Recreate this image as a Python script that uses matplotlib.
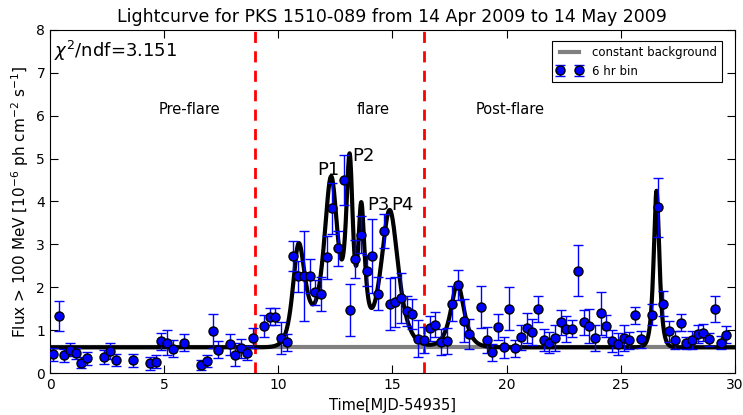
import numpy as np
import matplotlib
matplotlib.use("Agg")
import matplotlib.pyplot as plt

# ---- data (6 hr bins) ----
time = [0.125, 0.375, 0.625, 0.875, 1.125, 1.375, 1.625, 2.375, 2.625, 2.875,
        3.625, 4.375, 4.625, 4.875, 5.125, 5.375, 5.875, 6.625, 6.875, 7.125,
        7.375, 7.875, 8.125, 8.375, 8.625, 8.875, 9.375, 9.625, 9.875, 10.125,
        10.375, 10.625, 10.875, 11.125, 11.375, 11.625, 11.875, 12.125, 12.375, 12.625,
        12.875, 13.125, 13.375, 13.625, 13.875, 14.125, 14.375, 14.625, 14.875, 15.125,
        15.375, 15.625, 15.875, 16.125, 16.375, 16.625, 16.875, 17.125, 17.375, 17.625,
        17.875, 18.125, 18.375, 18.875, 19.125, 19.375, 19.625, 19.875, 20.125, 20.375,
        20.625, 20.875, 21.125, 21.375, 21.625, 21.875, 22.125, 22.375, 22.625, 22.875,
        23.125, 23.375, 23.625, 23.875, 24.125, 24.375, 24.625, 24.875, 25.125, 25.375,
        25.625, 25.875, 26.375, 26.625, 26.875, 27.125, 27.375, 27.625, 27.875, 28.125,
        28.375, 28.625, 28.875, 29.125, 29.375, 29.625]
flux = [0.44, 1.33, 0.41, 0.54, 0.46, 0.24, 0.34, 0.38, 0.52, 0.30,
        0.30, 0.23, 0.27, 0.74, 0.71, 0.57, 0.71, 0.19, 0.28, 0.98,
        0.54, 0.67, 0.43, 0.58, 0.47, 0.81, 1.10, 1.31, 1.31, 0.81,
        0.72, 2.73, 2.26, 2.26, 2.26, 1.88, 1.84, 2.70, 3.84, 2.91,
        4.50, 1.47, 2.66, 3.23, 2.39, 2.73, 1.85, 3.31, 1.61, 1.66,
        1.75, 1.45, 1.38, 0.80, 0.77, 1.04, 1.13, 0.73, 0.75, 1.62,
        2.05, 1.22, 0.91, 1.54, 0.77, 0.48, 1.08, 0.60, 1.50, 0.58,
        0.83, 1.04, 0.96, 1.50, 0.77, 0.71, 0.81, 1.18, 1.03, 1.03,
        2.39, 1.18, 1.09, 0.82, 1.39, 1.10, 0.75, 0.68, 0.82, 0.76,
        1.35, 0.79, 1.36, 3.86, 1.62, 0.97, 0.77, 1.17, 0.70, 0.77,
        0.91, 0.94, 0.79, 1.49, 0.71, 0.89]
flux_err = [0.15, 0.34, 0.15, 0.15, 0.13, 0.13, 0.15, 0.16, 0.19, 0.14,
            0.15, 0.15, 0.15, 0.20, 0.30, 0.20, 0.20, 0.12, 0.14, 0.39,
            0.20, 0.25, 0.27, 0.22, 0.17, 0.23, 0.25, 0.20, 0.20, 0.37,
            0.20, 0.34, 0.36, 1.05, 0.39, 0.30, 0.39, 0.50, 0.60, 0.41,
            0.58, 0.61, 0.45, 0.44, 0.37, 0.86, 0.39, 0.40, 0.60, 0.58,
            0.58, 0.35, 0.35, 0.43, 0.30, 0.30, 0.30, 0.30, 0.30, 0.40,
            0.35, 0.50, 0.35, 0.50, 0.30, 0.20, 0.30, 0.25, 0.50, 0.20,
            0.30, 0.35, 0.30, 0.30, 0.25, 0.25, 0.30, 0.30, 0.30, 0.20,
            0.60, 0.30, 0.40, 0.30, 0.50, 0.25, 0.25, 0.25, 0.30, 0.20,
            0.20, 0.20, 0.25, 0.68, 0.30, 0.25, 0.20, 0.20, 0.15, 0.20,
            0.20, 0.20, 0.15, 0.30, 0.15, 0.20]

# ---- fit model parameters ----
background = 0.6
peak_t0 = [10.85, 12.34, 13.14, 13.62, 14.89, 17.85, 26.57]
peak_F = [2.32, 3.9, 4.05, 3.0, 3.2, 1.47, 3.65]
peak_Tr = [0.20, 0.30, 0.15, 0.11, 0.35, 0.26, 0.11]
peak_Td = [0.30, 0.25, 0.12, 0.15, 0.33, 0.26, 0.11]
peak_labels = ["P1", "P2", "P3", "P4"]
peak_label_pos = [(12.18, 4.73), (13.75, 5.06), (14.37, 3.92), (15.46, 3.92)]
flare_start, flare_end = 9.0, 16.4
regions = [("Pre-flare", 6.13), ("flare", 14.15), ("Post-flare", 20.15)]

tt = np.linspace(0, 30, 3000)
model = np.full_like(tt, background)
for t0, F, tr, td in zip(peak_t0, peak_F, peak_Tr, peak_Td):
    model += 2 * F / (np.exp((t0 - tt) / tr) + np.exp((tt - t0) / td))

fig = plt.figure(figsize=(7.43, 4.15), dpi=100)
ax = fig.add_axes([0.0673, 0.101, 0.9217, 0.827])

ax.plot([0, 30], [background, background], color='0.5', lw=3, label='constant background', zorder=2)
ax.plot(tt, model, color='black', lw=3, zorder=3)
ax.errorbar(time, flux, yerr=flux_err, fmt='o', color='blue', mfc='blue', mec='black',
            ms=6.5, ecolor='blue', elinewidth=1, capsize=3.5, capthick=1,
            label='6 hr bin', zorder=4)

for xv in (flare_start, flare_end):
    ax.axvline(xv, color='red', ls='--', lw=2, dashes=(4, 3), zorder=1)

for lab, (x, y) in zip(peak_labels, peak_label_pos):
    ax.text(x, y, lab, fontsize=13, ha='center', va='center')
for lab, x in regions:
    ax.text(x, 6.14, lab, fontsize=10.5, ha='center', va='center')

ax.text(0.006, 0.975, r'$\chi^2$/ndf=3.151', transform=ax.transAxes, fontsize=13,
        ha='left', va='top')

ax.set_xlim(0, 30)
ax.set_ylim(0, 8)
ax.set_xticks(range(0, 31, 5))
ax.set_yticks(range(0, 9))
ax.tick_params(direction='in', top=True, right=True, length=6, labelsize=10)
ax.set_xlabel('Time[MJD-54935]', fontsize=10.5)
ax.set_ylabel(r'Flux > 100 MeV [$10^{-6}$ ph cm$^{-2}$ s$^{-1}$]', fontsize=11)
ax.set_title('Lightcurve for PKS 1510-089 from 14 Apr 2009 to 14 May 2009', fontsize=12.5)

leg = ax.legend(loc='upper right', numpoints=2, fontsize=8.5, fancybox=False,
                framealpha=1, edgecolor='black', handlelength=2.2,
                bbox_to_anchor=(0.99, 0.985))
leg.get_frame().set_linewidth(0.8)

fig.savefig('out.png', dpi=100, facecolor='white')
